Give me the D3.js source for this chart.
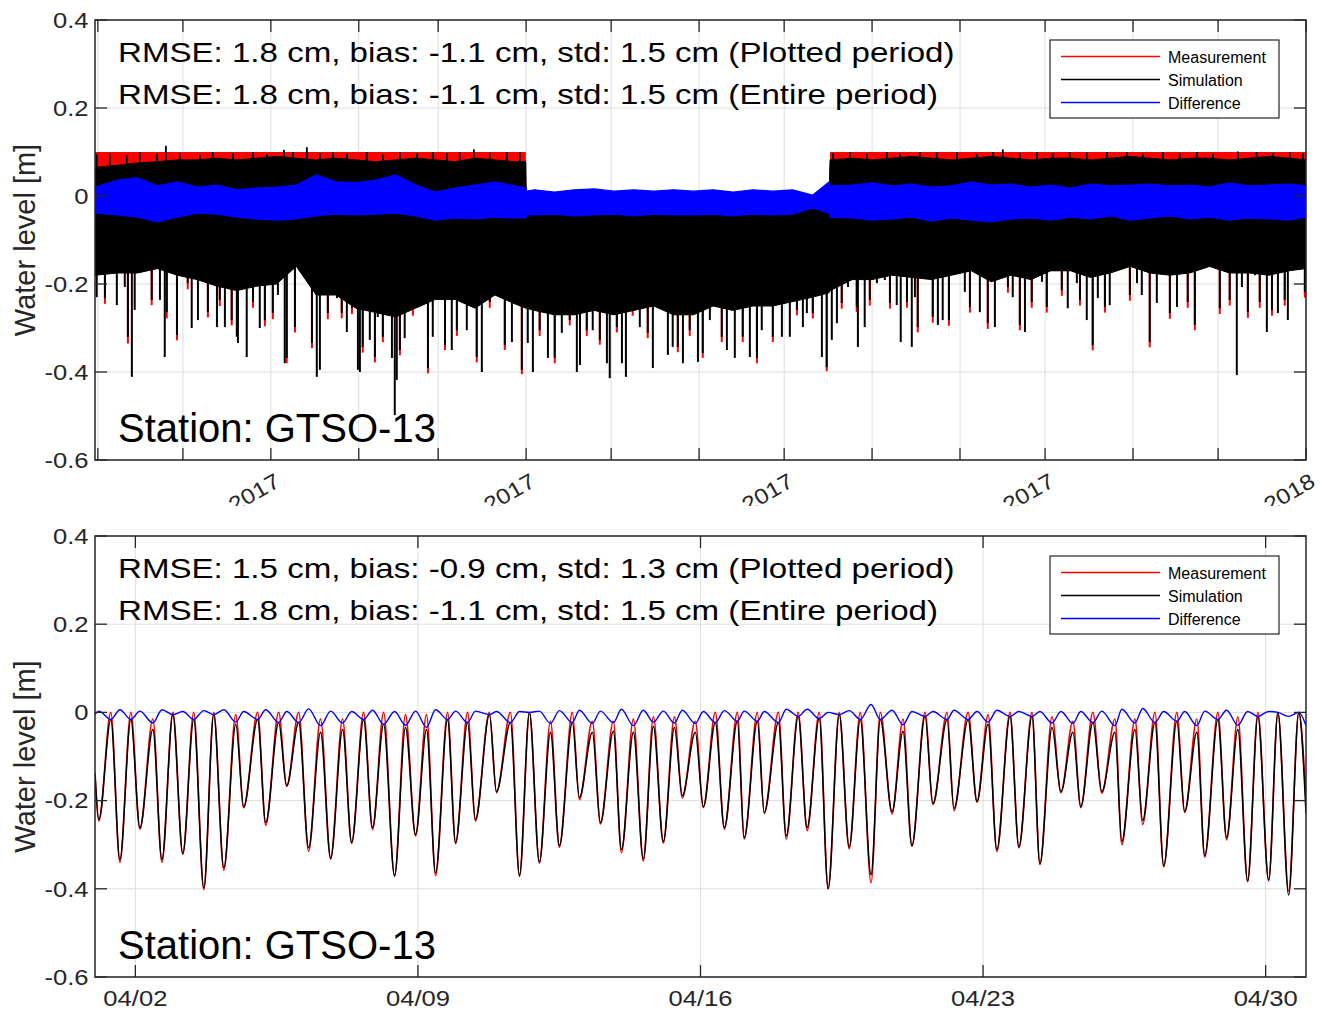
<!DOCTYPE html>
<html>
<head>
<meta charset="utf-8">
<title>Water level GTSO-13</title>
<script src="https://cdn.jsdelivr.net/npm/d3@7"></script>
<style>
  body { margin: 0; background: #fff; }
  svg { display: block; font-family: "Liberation Sans", Arial, Helvetica, sans-serif; }
</style>
</head>
<body>
<svg id="chart" width="1320" height="1010"></svg>
<script>
// ---- top panel: whole record, time in days since 2017-01-01 (UTC) ----
const envDays = [-62, -54, -47, -40, -33, -26, -19, -12, -5, 2, 9, 16, 23, 30, 37, 44, 51, 58, 65, 72, 79, 86, 89.9,
  90.1, 93, 100, 107, 114, 121, 128, 135, 142, 149, 156, 163, 170, 177, 184, 191, 196.8,
  197.2, 205, 212, 219, 226, 233, 240, 247, 254, 261, 268, 275, 282, 289, 296, 303, 310, 317, 324, 331, 338, 345, 352, 359, 365];
const measTop = [0.1, 0.1, 0.1, 0.1, 0.1, 0.1, 0.1, 0.1, 0.1, 0.1, 0.1, 0.1, 0.1, 0.1, 0.1, 0.1, 0.1, 0.1, 0.1, 0.1, 0.1, 0.1, 0.1,
  0, 0, 0, 0, 0, 0, 0, 0, 0, 0, 0, 0, 0, 0, 0, 0, 0,
  0.1, 0.1, 0.1, 0.1, 0.1, 0.1, 0.1, 0.1, 0.1, 0.1, 0.1, 0.1, 0.1, 0.1, 0.1, 0.1, 0.1, 0.1, 0.1, 0.1, 0.1, 0.1, 0.1, 0.1, 0.1];
const simTop = [0.065, 0.07, 0.075, 0.078, 0.082, 0.082, 0.086, 0.082, 0.086, 0.09, 0.086, 0.082, 0.086, 0.082, 0.078, 0.082, 0.086, 0.082, 0.078, 0.086, 0.082, 0.078, 0.078,
  -0.015, -0.015, -0.01, -0.015, -0.02, -0.015, -0.01, -0.015, -0.02, -0.015, -0.01, -0.015, -0.02, -0.015, -0.01, -0.015, -0.01,
  0.082, 0.086, 0.082, 0.086, 0.09, 0.086, 0.082, 0.086, 0.09, 0.086, 0.082, 0.086, 0.086, 0.082, 0.086, 0.09, 0.086, 0.082, 0.086, 0.086, 0.082, 0.086, 0.09, 0.086, 0.082];
const simLow = [-0.18, -0.175, -0.175, -0.165, -0.18, -0.19, -0.205, -0.215, -0.205, -0.2, -0.16, -0.225, -0.225, -0.255, -0.265, -0.275, -0.255, -0.235, -0.235, -0.255, -0.225, -0.245, -0.255,
  -0.255, -0.26, -0.27, -0.27, -0.26, -0.27, -0.26, -0.25, -0.27, -0.27, -0.25, -0.26, -0.25, -0.25, -0.24, -0.23, -0.22,
  -0.215, -0.19, -0.19, -0.18, -0.185, -0.19, -0.18, -0.17, -0.195, -0.18, -0.19, -0.17, -0.17, -0.185, -0.175, -0.16, -0.175, -0.18, -0.175, -0.16, -0.175, -0.175, -0.18, -0.17, -0.165];
const diffTop = [0.02, 0.036, 0.041, 0.023, 0.032, 0.02, 0.025, 0.014, 0.018, 0.02, 0.025, 0.048, 0.032, 0.03, 0.036, 0.048, 0.025, 0.009, 0.018, 0.025, 0.032, 0.023, 0.018,
  0.011, 0.014, 0.009, 0.014, 0.016, 0.011, 0.014, 0.011, 0.014, 0.011, 0.014, 0.009, 0.014, 0.011, 0.014, 0.002, 0.032,
  0.023, 0.025, 0.03, 0.023, 0.027, 0.02, 0.023, 0.032, 0.025, 0.027, 0.02, 0.025, 0.018, 0.027, 0.023, 0.025, 0.027, 0.023, 0.025, 0.02, 0.03, 0.023, 0.025, 0.027, 0.023];
const diffLow = [-0.039, -0.043, -0.048, -0.059, -0.048, -0.039, -0.041, -0.048, -0.052, -0.055, -0.052, -0.045, -0.041, -0.043, -0.041, -0.039, -0.045, -0.055, -0.05, -0.052, -0.048, -0.05, -0.05,
  -0.043, -0.043, -0.041, -0.045, -0.043, -0.041, -0.045, -0.041, -0.043, -0.043, -0.041, -0.045, -0.041, -0.043, -0.041, -0.027, -0.039,
  -0.048, -0.05, -0.055, -0.052, -0.048, -0.057, -0.05, -0.055, -0.059, -0.052, -0.05, -0.055, -0.048, -0.052, -0.045, -0.055, -0.05, -0.045, -0.052, -0.048, -0.055, -0.05, -0.052, -0.055, -0.048];

// deepest low waters of the simulation [day, m]
const simSpikes = [[-61.4,-0.230],[-58.5,-0.232],[-54.3,-0.248],[-51.5,-0.207],[-50.4,-0.320],[-49.0,-0.411],[-48.0,-0.259],[-43.7,-0.134],[-42.0,-0.236],[-39.1,-0.236],[-37.4,-0.366],[-36.7,-0.264],[-33.1,-0.316],[-31.4,-0.161],[-29.3,-0.198],[-27.9,-0.300],[-25.7,-0.282],[-24.0,-0.111],[-22.2,-0.264],[-19.0,-0.298],[-18.0,-0.236],[-16.2,-0.298],[-13.8,-0.282],[-12.0,-0.320],[-11.6,-0.334],[-8.5,-0.366],[-6.3,-0.241],[-3.9,-0.300],[-2.1,-0.282],[-0.4,-0.164],[0.7,-0.266],[2.5,-0.225],[4.9,-0.380],[5.6,-0.368],[8.5,-0.298],[14.5,-0.334],[16.2,-0.411],[17.3,-0.395],[20.1,-0.266],[23.3,-0.232],[25.0,-0.266],[26.8,-0.309],[28.6,-0.255],[30.7,-0.395],[31.4,-0.400],[32.4,-0.343],[34.9,-0.327],[36.7,-0.366],[37.7,-0.275],[39.5,-0.320],[42.7,-0.368],[43.7,-0.498],[44.4,-0.418],[45.5,-0.350],[47.2,-0.323],[50.1,-0.259],[55.4,-0.391],[57.1,-0.320],[58.9,-0.191],
  [61.4,-0.339],[63.8,-0.350],[65.6,-0.305],[69.1,-0.305],[72.6,-0.366],[74.4,-0.400],[77.2,-0.241],[80.0,-0.161],[82.5,-0.339],[85.0,-0.332],[88.5,-0.395],[90.6,-0.334],[92.4,-0.400],[94.8,-0.305],[97.7,-0.368],[100.1,-0.368],[102.6,-0.311],[105.4,-0.282],[107.9,-0.400],[109.0,-0.384],[111.4,-0.305],[113.5,-0.305],[116.0,-0.327],[118.5,-0.380],[119.5,-0.414],[122.0,-0.298],[123.8,-0.380],[125.2,-0.411],[127.6,-0.259],[130.1,-0.298],[132.9,-0.311],[134.7,-0.391],[137.2,-0.241],[140.0,-0.361],[141.7,-0.343],[143.5,-0.343],[145.3,-0.380],[147.7,-0.305],[150.6,-0.377],[152.3,-0.357],[154.8,-0.282],[157.3,-0.168],[159.0,-0.320],[160.8,-0.350],[163.6,-0.368],[166.4,-0.320],[168.9,-0.366],[171.4,-0.368],[173.1,-0.305],[174.9,-0.241],[177.0,-0.320],[180.2,-0.320],[183.0,-0.320],[185.5,-0.259],[187.6,-0.298],[189.0,-0.266],[191.1,-0.266],[194.3,-0.366],[196.0,-0.389],[197.8,-0.327],[199.6,-0.289],[201.3,-0.243],[203.5,-0.207],[206.6,-0.252],[207.0,-0.343],[209.4,-0.298],[211.2,-0.236],[213.7,-0.198],
  [216.5,-0.191],[218.3,-0.243],[220.7,-0.248],[222.1,-0.332],[224.3,-0.241],[226.0,-0.343],[227.1,-0.230],[228.1,-0.298],[231.3,-0.168],[233.4,-0.275],[235.2,-0.293],[236.9,-0.282],[239.1,-0.282],[242.2,-0.093],[244.7,-0.218],[246.5,-0.252],[250.0,-0.264],[252.8,-0.289],[255.3,-0.298],[258.1,-0.152],[259.9,-0.207],[261.6,-0.230],[264.1,-0.293],[265.9,-0.309],[268.3,-0.241],[271.9,-0.195],[273.6,-0.252],[275.7,-0.139],[278.9,-0.214],[281.0,-0.255],[284.2,-0.198],[285.3,-0.236],[287.7,-0.282],[289.8,-0.339],[291.6,-0.232],[294.1,-0.252],[295.8,-0.248],[298.7,-0.130],[302.9,-0.225],[305.4,-0.198],[307.1,-0.225],[309.9,-0.332],[312.4,-0.243],[314.5,-0.161],[317.0,-0.266],[319.5,-0.252],[321.6,-0.168],[323.3,-0.241],[325.8,-0.293],[328.3,-0.130],[332.9,-0.134],[334.6,-0.255],[338.1,-0.236],[340.6,-0.407],[342.4,-0.207],[344.5,-0.264],[347.0,-0.180],[348.7,-0.241],[351.2,-0.309],[353.0,-0.259],[355.1,-0.266],[357.5,-0.236],[358.6,-0.282],[362.1,-0.123],[364.6,-0.218]];

// measured low waters that reach below the simulation [day, m]
const measSpikes = [[-58.5,-0.245],[-50.4,-0.335],[-42.0,-0.248],[-36.7,-0.278],[-33.1,-0.328],[-29.3,-0.212],[-22.2,-0.276],[-18.0,-0.250],[-13.8,-0.294],[-6.3,-0.254],[-2.1,-0.296],[0.7,-0.280],[5.6,-0.380],[8.5,-0.310],[14.5,-0.346],[20.1,-0.280],[25.0,-0.278],[28.6,-0.268],[32.4,-0.356],[36.7,-0.378],[39.5,-0.332],[45.5,-0.362],[50.1,-0.272],[55.4,-0.403],
  [61.4,-0.350],[65.6,-0.318],[72.6,-0.378],[77.2,-0.254],[82.5,-0.350],[88.5,-0.405],[94.8,-0.318],[100.1,-0.380],[105.4,-0.294],[111.4,-0.318],[116.0,-0.338],[122.0,-0.310],[127.6,-0.272],[132.9,-0.323],[137.2,-0.254],[143.5,-0.355],[147.7,-0.318],[152.3,-0.368],[159.0,-0.332],[166.4,-0.332],[171.4,-0.380],[177.0,-0.332],[185.5,-0.271],[191.1,-0.278],[196.0,-0.398],[201.3,-0.256],[206.6,-0.264],[211.2,-0.249],
  [218.3,-0.256],[224.3,-0.254],[228.1,-0.310],[233.4,-0.288],[239.1,-0.295],[246.5,-0.265],[252.8,-0.302],[259.9,-0.220],[264.1,-0.305],[268.3,-0.254],[273.6,-0.265],[278.9,-0.227],[285.3,-0.249],[289.8,-0.351],[294.1,-0.265],[302.9,-0.238],[309.9,-0.344],[317.0,-0.279],[323.3,-0.254],[325.8,-0.305],[334.6,-0.268],[338.1,-0.249],[344.5,-0.277],[348.7,-0.254],[353.0,-0.272],[357.5,-0.249],[364.6,-0.231]];

// simulated high waters reaching the measurement ceiling [day, m]
const simUpSpikes = [[-61.4,0.095],[-56.8,0.098],[-50.8,0.092],[-46.2,0.1],[-40.2,0.096],[-37.0,0.114],[-32.1,0.098],[-25.0,0.094],[-20.5,0.1],[-13.4,0.097],[-6.3,0.1],[-1.4,0.095],[4.6,0.105],[7.8,0.1],[12.7,0.111],[17.3,0.098],[21.9,0.1],[26.8,0.096],[33.8,0.1],[39.5,0.094],[45.5,0.1],[51.5,0.097],[57.1,0.1],[62.1,0.098],[66.6,0.1],[71.6,0.106],[77.2,0.099],[83.2,0.1],[87.8,0.1],
  [198.2,0.098],[204.2,0.1],[210.2,0.096],[217.2,0.1],[221.8,0.097],[228.8,0.1],[234.8,0.099],[241.9,0.1],[248.9,0.096],[254.6,0.1],[258.1,0.106],[264.1,0.098],[270.1,0.1],[275.7,0.097],[281.7,0.1],[287.7,0.099],[294.8,0.1],[301.8,0.1],[307.5,0.097],[314.5,0.1],[320.5,0.098],[326.5,0.1],[332.2,0.096],[341.0,0.101],[347.6,0.1],[353.3,0.098],[359.3,0.1],[363.9,0.097]];

// ---- bottom panel: April 2017, time in hours since 2017-04-01 00:00 (UTC) ----
const troughHours = [2.3, 14.8, 26.7, 39.8, 52.2, 64.7, 76.6, 88.4, 101.5, 114.0, 127.0, 140.1, 152.6, 165.0, 178.1, 190.6, 202.5, 214.4, 226.2, 238.7, 252.4, 264.2, 276.1, 288.0, 300.5, 313.0, 326.0, 337.9, 349.2, 361.7, 374.2, 386.0, 397.9, 411.0, 423.4, 435.9, 448.4, 461.4, 473.9, 485.7, 498.2, 510.7, 524.4, 536.2, 549.3, 561.8, 574.3, 586.1, 598.6, 610.5, 622.9, 635.4, 647.9, 659.8, 672.8, 685.3, 697.8, 709.7];
const simTroughs = [-0.243, -0.334, -0.262, -0.334, -0.320, -0.398, -0.352, -0.214, -0.250, -0.166, -0.307, -0.330, -0.295, -0.261, -0.370, -0.277, -0.364, -0.295, -0.243, -0.180, -0.370, -0.339, -0.302, -0.193, -0.250, -0.311, -0.332, -0.293, -0.189, -0.214, -0.261, -0.284, -0.227, -0.280, -0.261, -0.400, -0.305, -0.368, -0.225, -0.302, -0.207, -0.218, -0.202, -0.311, -0.305, -0.343, -0.180, -0.214, -0.180, -0.293, -0.245, -0.348, -0.225, -0.325, -0.284, -0.382, -0.380, -0.414];
const measTroughs = [-0.246, -0.340, -0.265, -0.340, -0.322, -0.402, -0.358, -0.216, -0.256, -0.168, -0.315, -0.333, -0.297, -0.266, -0.372, -0.280, -0.370, -0.298, -0.246, -0.182, -0.372, -0.342, -0.306, -0.198, -0.253, -0.318, -0.337, -0.296, -0.194, -0.216, -0.265, -0.287, -0.229, -0.287, -0.268, -0.400, -0.309, -0.386, -0.230, -0.304, -0.209, -0.223, -0.204, -0.316, -0.307, -0.345, -0.182, -0.216, -0.183, -0.300, -0.254, -0.350, -0.227, -0.328, -0.289, -0.384, -0.382, -0.405];
const peakHours = [9.4, 21.3, 34.4, 46.3, 58.7, 70.6, 83.7, 96.7, 109.2, 121.1, 134.1, 147.2, 159.7, 171.6, 184.6, 197.1, 209.6, 221.5, 234.5, 247.0, 258.3, 270.8, 283.8, 295.7, 308.2, 320.1, 332.0, 344.5, 356.9, 368.8, 381.9, 393.8, 406.3, 418.1, 430.6, 442.5, 455.0, 466.9, 480.4, 493.5, 506.6, 519.1, 531.0, 544.0, 557.1, 569.0, 581.4, 593.3, 606.4, 618.3, 630.2, 643.2, 655.1, 667.6, 679.5, 691.4, 703.3, 715.7];
const simPeaks = [-0.016, -0.016, -0.039, -0.005, -0.016, -0.005, -0.027, -0.016, -0.023, -0.023, -0.045, -0.039, -0.016, -0.027, -0.034, -0.039,
  -0.016, -0.023, -0.005, -0.023, 0.0, -0.045, -0.023, -0.045, -0.043, -0.045, -0.032, -0.034, -0.045, -0.023, -0.020, -0.020, -0.023, -0.009, -0.014, -0.005, -0.016,
  -0.016, -0.043, -0.009, -0.016, -0.016, -0.027, -0.009, -0.009, -0.034, -0.045, -0.023, -0.045, -0.039, -0.023, -0.020, -0.045, -0.016, -0.039, -0.009, 0.0, 0.0];
const measPeaks = [0, 0, -0.015, 0, 0, 0, -0.005, 0, 0, 0, -0.015, -0.015, 0, 0, -0.005, -0.005,
  0, 0, 0, 0, 0, -0.02, 0, -0.02, -0.02, -0.015, -0.01, -0.01, -0.02, 0, 0, 0, 0, 0, 0, 0, 0,
  0, -0.015, 0, 0, 0, -0.005, 0, 0, -0.01, -0.02, 0, -0.015, -0.015, 0, 0, -0.015, 0, -0.01, 0, 0, 0];
const edgeHours = [0, 720];
const simEdge = [-0.14, -0.23];
const measEdge = [-0.136, -0.2];

const statsTop = ['RMSE: 1.8 cm, bias: -1.1 cm, std: 1.5 cm (Plotted period)',
  'RMSE: 1.8 cm, bias: -1.1 cm, std: 1.5 cm (Entire period)'];
const statsBottom = ['RMSE: 1.5 cm, bias: -0.9 cm, std: 1.3 cm (Plotted period)',
  'RMSE: 1.8 cm, bias: -1.1 cm, std: 1.5 cm (Entire period)'];
const stationName = 'Station: GTSO-13';
const legendNames = ['Measurement', 'Simulation', 'Difference'];
const legendColors = ['#ff0000', '#000000', '#0000ff'];
const yTickValues = [-0.6, -0.4, -0.2, 0, 0.2, 0.4];

const AX = '#262626';
const GRID = '#dedede';
const DAY = 864e5;
const dayToDate = d => new Date(Date.UTC(2017, 0, 1) + d * DAY);
const hourToDate = h => new Date(Date.UTC(2017, 3, 1) + h * 36e5);
const fmtY = v => String(Math.round(v * 10) / 10);

const svg = d3.select('#chart');

function addText(g, x, y, str, size, opt = {}) {
    const rot = opt.rotate ? ` rotate(${opt.rotate})` : '';
    return g.append('text')
        .attr('transform', `translate(${x},${y})${rot} scale(${opt.sx || 1},1)`)
        .attr('text-anchor', opt.anchor || 'start')
        .attr('dy', opt.dy || null)
        .attr('font-size', size)
        .attr('fill', opt.fill || '#000')
        .text(str);
}

function drawGrid(g, box, xs, ys) {
    g.append('g').selectAll('line').data(xs).join('line')
        .attr('x1', d => d).attr('x2', d => d)
        .attr('y1', box.top).attr('y2', box.bottom)
        .attr('stroke', GRID).attr('stroke-width', 1);
    g.append('g').selectAll('line').data(ys).join('line')
        .attr('x1', box.left).attr('x2', box.right)
        .attr('y1', d => d).attr('y2', d => d)
        .attr('stroke', GRID).attr('stroke-width', 1);
}

function drawBox(g, box, xs, ys) {
    const t = 12;
    const ticks = g.append('g').attr('stroke', AX).attr('stroke-width', 1.3);
    xs.forEach(x => {
        ticks.append('line').attr('x1', x).attr('x2', x).attr('y1', box.bottom).attr('y2', box.bottom - t);
        ticks.append('line').attr('x1', x).attr('x2', x).attr('y1', box.top).attr('y2', box.top + t);
    });
    ys.forEach(y => {
        ticks.append('line').attr('x1', box.left).attr('x2', box.left + t).attr('y1', y).attr('y2', y);
        ticks.append('line').attr('x1', box.right).attr('x2', box.right - t).attr('y1', y).attr('y2', y);
    });
    g.append('rect')
        .attr('x', box.left).attr('y', box.top)
        .attr('width', box.right - box.left).attr('height', box.bottom - box.top)
        .attr('fill', 'none').attr('stroke', AX).attr('stroke-width', 1.5);
}

function drawYAxisLabels(g, box, y) {
    yTickValues.forEach(v => {
        addText(g, 88.5, y(v), fmtY(v), 21.5, {anchor: 'end', dy: '0.36em', sx: 1.19, fill: AX});
    });
    addText(g, 35, (box.top + box.bottom) / 2, 'Water level [m]', 29, {anchor: 'middle', rotate: -90, fill: AX});
}

function drawLegend(g, x, y) {
    g.append('rect')
        .attr('x', x).attr('y', y).attr('width', 229).attr('height', 78)
        .attr('fill', '#fff').attr('stroke', AX).attr('stroke-width', 1.2);
    legendNames.forEach((name, i) => {
        const yy = y + 16.5 + i * 23;
        g.append('line')
            .attr('x1', x + 11).attr('x2', x + 110).attr('y1', yy).attr('y2', yy)
            .attr('stroke', legendColors[i]).attr('stroke-width', 1.5);
        addText(g, x + 118, yy + 6.5, name, 16, {fill: '#000'});
    });
}

function drawStats(g, top, lines) {
    addText(g, 118, top + 42, lines[0], 27, {sx: 1.226});
    addText(g, 118, top + 84, lines[1], 27, {sx: 1.226});
}

// ================= top panel =================
const boxT = {left: 95, right: 1306, top: 20, bottom: 460};
const xT = d3.scaleUtc().domain([dayToDate(-62), dayToDate(365)]).range([boxT.left, boxT.right]);
const yT = d3.scaleLinear().domain([-0.6, 0.4]).range([boxT.bottom, boxT.top]);
const monthTicks = d3.utcMonth.range(dayToDate(-62), dayToDate(365.5));

const gT = svg.append('g');
drawGrid(gT, boxT, monthTicks.map(xT), yTickValues.map(yT));

svg.append('clipPath').attr('id', 'clipT').append('rect')
    .attr('x', boxT.left).attr('y', boxT.top)
    .attr('width', boxT.right - boxT.left).attr('height', boxT.bottom - boxT.top);

const env = envDays.map((d, i) => ({
    t: dayToDate(d), mTop: measTop[i], sTop: simTop[i], sLow: simLow[i], dTop: diffTop[i], dLow: diffLow[i]
}));
const dataT = gT.append('g').attr('clip-path', 'url(#clipT)');

dataT.append('path').datum(env)
    .attr('d', d3.area().x(d => xT(d.t)).y0(d => yT(d.sLow)).y1(d => yT(d.mTop)))
    .attr('fill', '#ff0000');

dataT.append('g').selectAll('line').data(measSpikes).join('line')
    .attr('x1', d => xT(dayToDate(d[0]))).attr('x2', d => xT(dayToDate(d[0])))
    .attr('y1', yT(-0.1)).attr('y2', d => yT(d[1]))
    .attr('stroke', '#ff0000').attr('stroke-width', 2);

dataT.append('path').datum(env)
    .attr('d', d3.area().x(d => xT(d.t)).y0(d => yT(d.sLow)).y1(d => yT(d.sTop)))
    .attr('fill', '#000').attr('stroke', '#000').attr('stroke-width', 1);

dataT.append('g').selectAll('line').data(simSpikes).join('line')
    .attr('x1', d => xT(dayToDate(d[0]))).attr('x2', d => xT(dayToDate(d[0])))
    .attr('y1', yT(-0.1)).attr('y2', d => yT(d[1]))
    .attr('stroke', '#000').attr('stroke-width', 2);

dataT.append('g').selectAll('line').data(simUpSpikes).join('line')
    .attr('x1', d => xT(dayToDate(d[0]))).attr('x2', d => xT(dayToDate(d[0])))
    .attr('y1', yT(0.05)).attr('y2', d => yT(d[1]))
    .attr('stroke', '#000').attr('stroke-width', 1.8);

dataT.append('path').datum(env)
    .attr('d', d3.area().x(d => xT(d.t)).y0(d => yT(d.dLow)).y1(d => yT(d.dTop)))
    .attr('fill', '#0000ff').attr('stroke', '#0000ff').attr('stroke-width', 1.2);

drawBox(gT, boxT, monthTicks.map(xT), yTickValues.map(yT));
drawYAxisLabels(gT, boxT, yT);

svg.append('clipPath').attr('id', 'clipYears').append('rect')
    .attr('x', 0).attr('y', 462).attr('width', 1320).attr('height', 44);
const yearG = gT.append('g').attr('clip-path', 'url(#clipYears)');
monthTicks.filter(t => t.getUTCMonth() % 3 === 0).forEach(t => {
    addText(yearG, xT(t) + 3, 472, d3.utcFormat('%Y')(t), 21.5,
        {anchor: 'end', rotate: -30, dy: '0.72em', sx: 1.15, fill: AX});
});

drawStats(gT, boxT.top, statsTop);
addText(gT, 118, 441.5, stationName, 40);
drawLegend(gT, 1050, 40);

// ================= bottom panel =================
const boxB = {left: 95, right: 1306, top: 536, bottom: 977};
const xB = d3.scaleUtc().domain([hourToDate(0), hourToDate(720)]).range([boxB.left, boxB.right]);
const yB = d3.scaleLinear().domain([-0.6, 0.4]).range([boxB.bottom, boxB.top]);
const weekTicks = d3.utcDay.range(new Date(Date.UTC(2017, 3, 2)), new Date(Date.UTC(2017, 4, 1)), 7);

const gB = svg.append('g');
drawGrid(gB, boxB, weekTicks.map(xB), yTickValues.map(yB));

svg.append('clipPath').attr('id', 'clipB').append('rect')
    .attr('x', boxB.left).attr('y', boxB.top)
    .attr('width', boxB.right - boxB.left).attr('height', boxB.bottom - boxB.top);

const tide = [
    ...edgeHours.map((h, i) => ({h, s: simEdge[i], m: measEdge[i]})),
    ...troughHours.map((h, i) => ({h, s: simTroughs[i], m: measTroughs[i]})),
    ...peakHours.map((h, i) => ({h, s: simPeaks[i], m: measPeaks[i]}))
].sort((a, b) => a.h - b.h);

const dataB = gB.append('g').attr('clip-path', 'url(#clipB)');
const lineB = acc => d3.line().curve(d3.curveMonotoneX).x(d => xB(hourToDate(d.h))).y(d => yB(acc(d)));

dataB.append('path').datum(tide)
    .attr('d', lineB(d => d.m))
    .attr('fill', 'none').attr('stroke', '#ff0000').attr('stroke-width', 1.6);
dataB.append('path').datum(tide)
    .attr('d', lineB(d => d.s))
    .attr('fill', 'none').attr('stroke', '#000').attr('stroke-width', 1.5);
dataB.append('path').datum(tide)
    .attr('d', lineB(d => d.s - d.m))
    .attr('fill', 'none').attr('stroke', '#0000ff').attr('stroke-width', 1.4);

drawBox(gB, boxB, weekTicks.map(xB), yTickValues.map(yB));
drawYAxisLabels(gB, boxB, yB);
weekTicks.forEach(t => {
    addText(gB, xB(t), 1005.5, d3.utcFormat('%m/%d')(t), 21.5, {anchor: 'middle', sx: 1.19, fill: AX});
});

drawStats(gB, boxB.top, statsBottom);
addText(gB, 118, 959, stationName, 40);
drawLegend(gB, 1050, 556);
</script>
</body>
</html>
